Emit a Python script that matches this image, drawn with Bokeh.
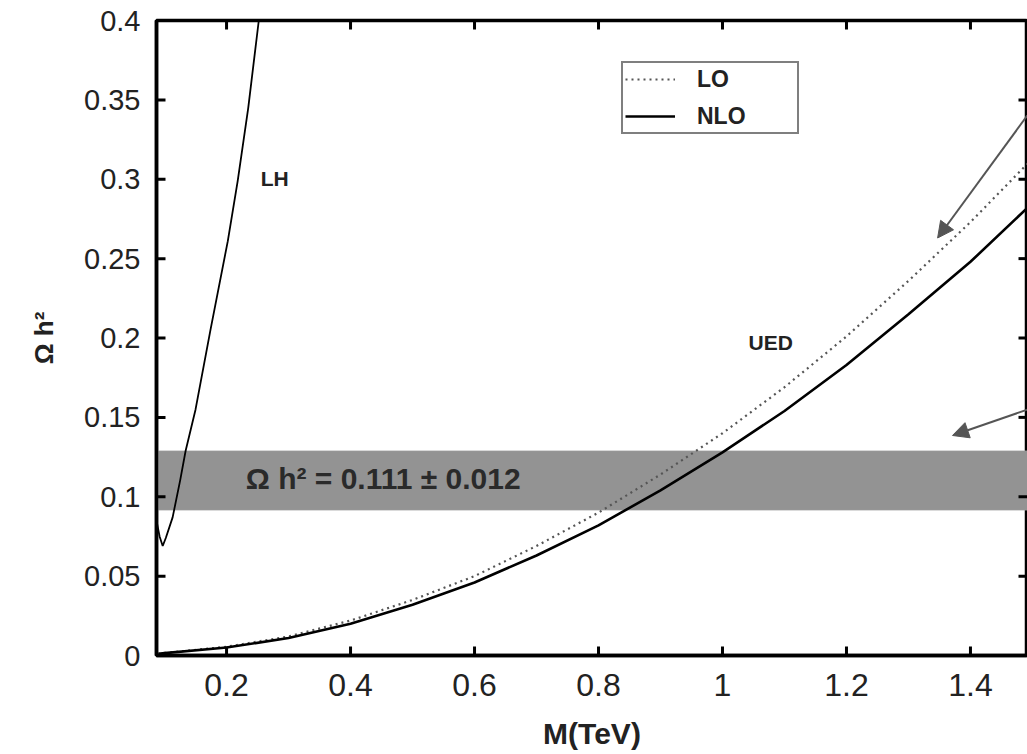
from bokeh.plotting import figure
from bokeh.models import (Range1d, FixedTicker, Legend, LegendItem, Arrow,
                          NormalHead, BoxAnnotation, Label)
from bokeh.embed import file_html
from bokeh.resources import INLINE

# ---- data ----
ued_x = [0.09, 0.1, 0.2, 0.3, 0.4, 0.5, 0.6, 0.7, 0.8, 0.9, 1.0, 1.1, 1.2, 1.3, 1.4, 1.5]
ued_nlo = [0.001, 0.0015, 0.005, 0.011, 0.020, 0.032, 0.046, 0.063, 0.082, 0.104,
           0.128, 0.154, 0.183, 0.215, 0.248, 0.285]
ued_lo = [0.001, 0.0016, 0.0055, 0.012, 0.022, 0.035, 0.050, 0.069, 0.090, 0.114,
          0.140, 0.169, 0.201, 0.236, 0.273, 0.313]

lh_x = [0.087, 0.092, 0.097, 0.102, 0.113, 0.125, 0.134, 0.15, 0.174, 0.202,
        0.218, 0.235, 0.252]
lh_y = [0.085, 0.075, 0.069, 0.074, 0.087, 0.110, 0.129, 0.155, 0.205, 0.261,
        0.299, 0.345, 0.400]

band_lo = 0.0915
band_hi = 0.129

x_ticks = [0.2, 0.4, 0.6, 0.8, 1.0, 1.2, 1.4]
x_tick_labels = ["0.2", "0.4", "0.6", "0.8", "1", "1.2", "1.4"]
y_ticks = [0, 0.05, 0.1, 0.15, 0.2, 0.25, 0.3, 0.35, 0.4]
y_tick_labels = ["0", "0.05", "0.1", "0.15", "0.2", "0.25", "0.3", "0.35", "0.4"]

legend_labels = ["LO", "NLO"]
band_text = "\u03a9 h\u00b2 = 0.111 \u00b1 0.012"

# annotation anchors (data coords)
arrow1 = dict(x_start=1.497, y_start=0.343, x_end=1.347, y_end=0.263)
arrow2 = dict(x_start=1.497, y_start=0.1556, x_end=1.371, y_end=0.1386)

FONT = "Liberation Sans"
NARROW = "Liberation Sans Narrow, Liberation Sans"

W, H = 1027, 752
BL, BR, BT, BB = 156, 0, 20, 97
TICK_PX = 9

xr = Range1d(0.087, 1.492)
yr = Range1d(0, 0.4)

p = figure(width=W, height=H, output_backend="svg", toolbar_location=None,
           x_range=xr, y_range=yr,
           min_border_left=BL, min_border_right=BR, min_border_top=BT,
           min_border_bottom=BB)
p.background_fill_color = "white"
p.border_fill_color = "white"
p.grid.visible = False
p.outline_line_color = "black"
p.outline_line_width = 3.5

band = BoxAnnotation(bottom=band_lo, top=band_hi, fill_color="#939393",
                     fill_alpha=1.0, line_color="#b5b5b5", line_width=1,
                     level="underlay")
p.add_layout(band)

lh = p.line(lh_x, lh_y, line_color="black", line_width=1.8)
lo = p.line(ued_x, ued_lo, line_color="#555555", line_width=2.2, line_dash="2 4")
nlo = p.line(ued_x, ued_nlo, line_color="black", line_width=2.6)

# inward tick marks on all four sides (lengths converted from pixels to data units)
tlx = (xr.end - xr.start) * TICK_PX / (W - BL - BR)
tly = (yr.end - yr.start) * TICK_PX / (H - BT - BB)
nx, ny = len(x_ticks), len(y_ticks)
p.segment(x0=x_ticks, y0=[yr.start] * nx, x1=x_ticks, y1=[yr.start + tly] * nx,
          line_color="black", line_width=3)
p.segment(x0=x_ticks, y0=[yr.end] * nx, x1=x_ticks, y1=[yr.end - tly] * nx,
          line_color="black", line_width=3)
p.segment(x0=[xr.start] * ny, y0=y_ticks, x1=[xr.start + tlx] * ny, y1=y_ticks,
          line_color="black", line_width=3)
p.segment(x0=[xr.end] * ny, y0=y_ticks, x1=[xr.end - tlx] * ny, y1=y_ticks,
          line_color="black", line_width=3)

# axes
for ax in p.axis:
    ax.axis_line_width = 3.5
    ax.axis_line_color = "black"
    ax.major_tick_line_color = None
    ax.minor_tick_line_color = None
    ax.major_tick_in = 0
    ax.major_tick_out = 0
    ax.major_label_text_color = "#222222"

p.xaxis.ticker = FixedTicker(ticks=x_ticks)
p.xaxis.major_label_overrides = dict(zip(x_ticks, x_tick_labels))
p.xaxis.major_label_text_font = NARROW
p.xaxis.major_label_text_font_size = "32px"
p.xaxis.major_label_standoff = 18
p.xaxis.axis_label = "M(TeV)"
p.xaxis.axis_label_text_font = NARROW
p.xaxis.axis_label_text_font_size = "30px"
p.xaxis.axis_label_text_font_style = "bold"
p.xaxis.axis_label_text_color = "#222222"
p.xaxis.axis_label_standoff = 18

p.yaxis.ticker = FixedTicker(ticks=y_ticks)
p.yaxis.major_label_overrides = dict(zip(y_ticks, y_tick_labels))
p.yaxis.major_label_text_font = FONT
p.yaxis.major_label_text_font_size = "29px"
p.yaxis.major_label_standoff = 16
p.yaxis.axis_label = "\u03a9 h\u00b2"
p.yaxis.axis_label_text_font = FONT
p.yaxis.axis_label_text_font_size = "26px"
p.yaxis.axis_label_text_font_style = "bold"
p.yaxis.axis_label_text_color = "#222222"
p.yaxis.axis_label_standoff = 22

# legend
legend = Legend(items=[LegendItem(label=legend_labels[0], renderers=[lo]),
                       LegendItem(label=legend_labels[1], renderers=[nlo])],
                location=(465, 521))
legend.border_line_color = "black"
legend.border_line_width = 2
legend.background_fill_color = "white"
legend.background_fill_alpha = 1.0
legend.label_text_font = FONT
legend.label_text_font_style = "bold"
legend.label_text_font_size = "23px"
legend.label_text_color = "#222222"
legend.glyph_width = 50
legend.glyph_height = 28
legend.label_height = 28
legend.label_width = 98
legend.label_standoff = 22
legend.padding = 2
legend.spacing = 9
legend.margin = 0
p.add_layout(legend)

# text labels
p.add_layout(Label(x=0.255, y=0.293, text="LH", text_font=FONT, text_font_style="bold",
                   text_font_size="21px", text_color="#222222"))
p.add_layout(Label(x=1.042, y=0.190, text="UED", text_font=FONT, text_font_style="bold",
                   text_font_size="21px", text_color="#222222"))
p.add_layout(Label(x=0.231, y=0.1008, text=band_text, text_font=FONT,
                   text_font_style="bold", text_font_size="30px", text_color="#2a2a2a"))

# arrows
for a in (arrow1, arrow2):
    p.add_layout(Arrow(end=NormalHead(size=16, fill_color="#555555", line_color="#555555"),
                       line_color="#555555", line_width=2, **a))

open("out.html", "w").write(file_html(p, INLINE))
